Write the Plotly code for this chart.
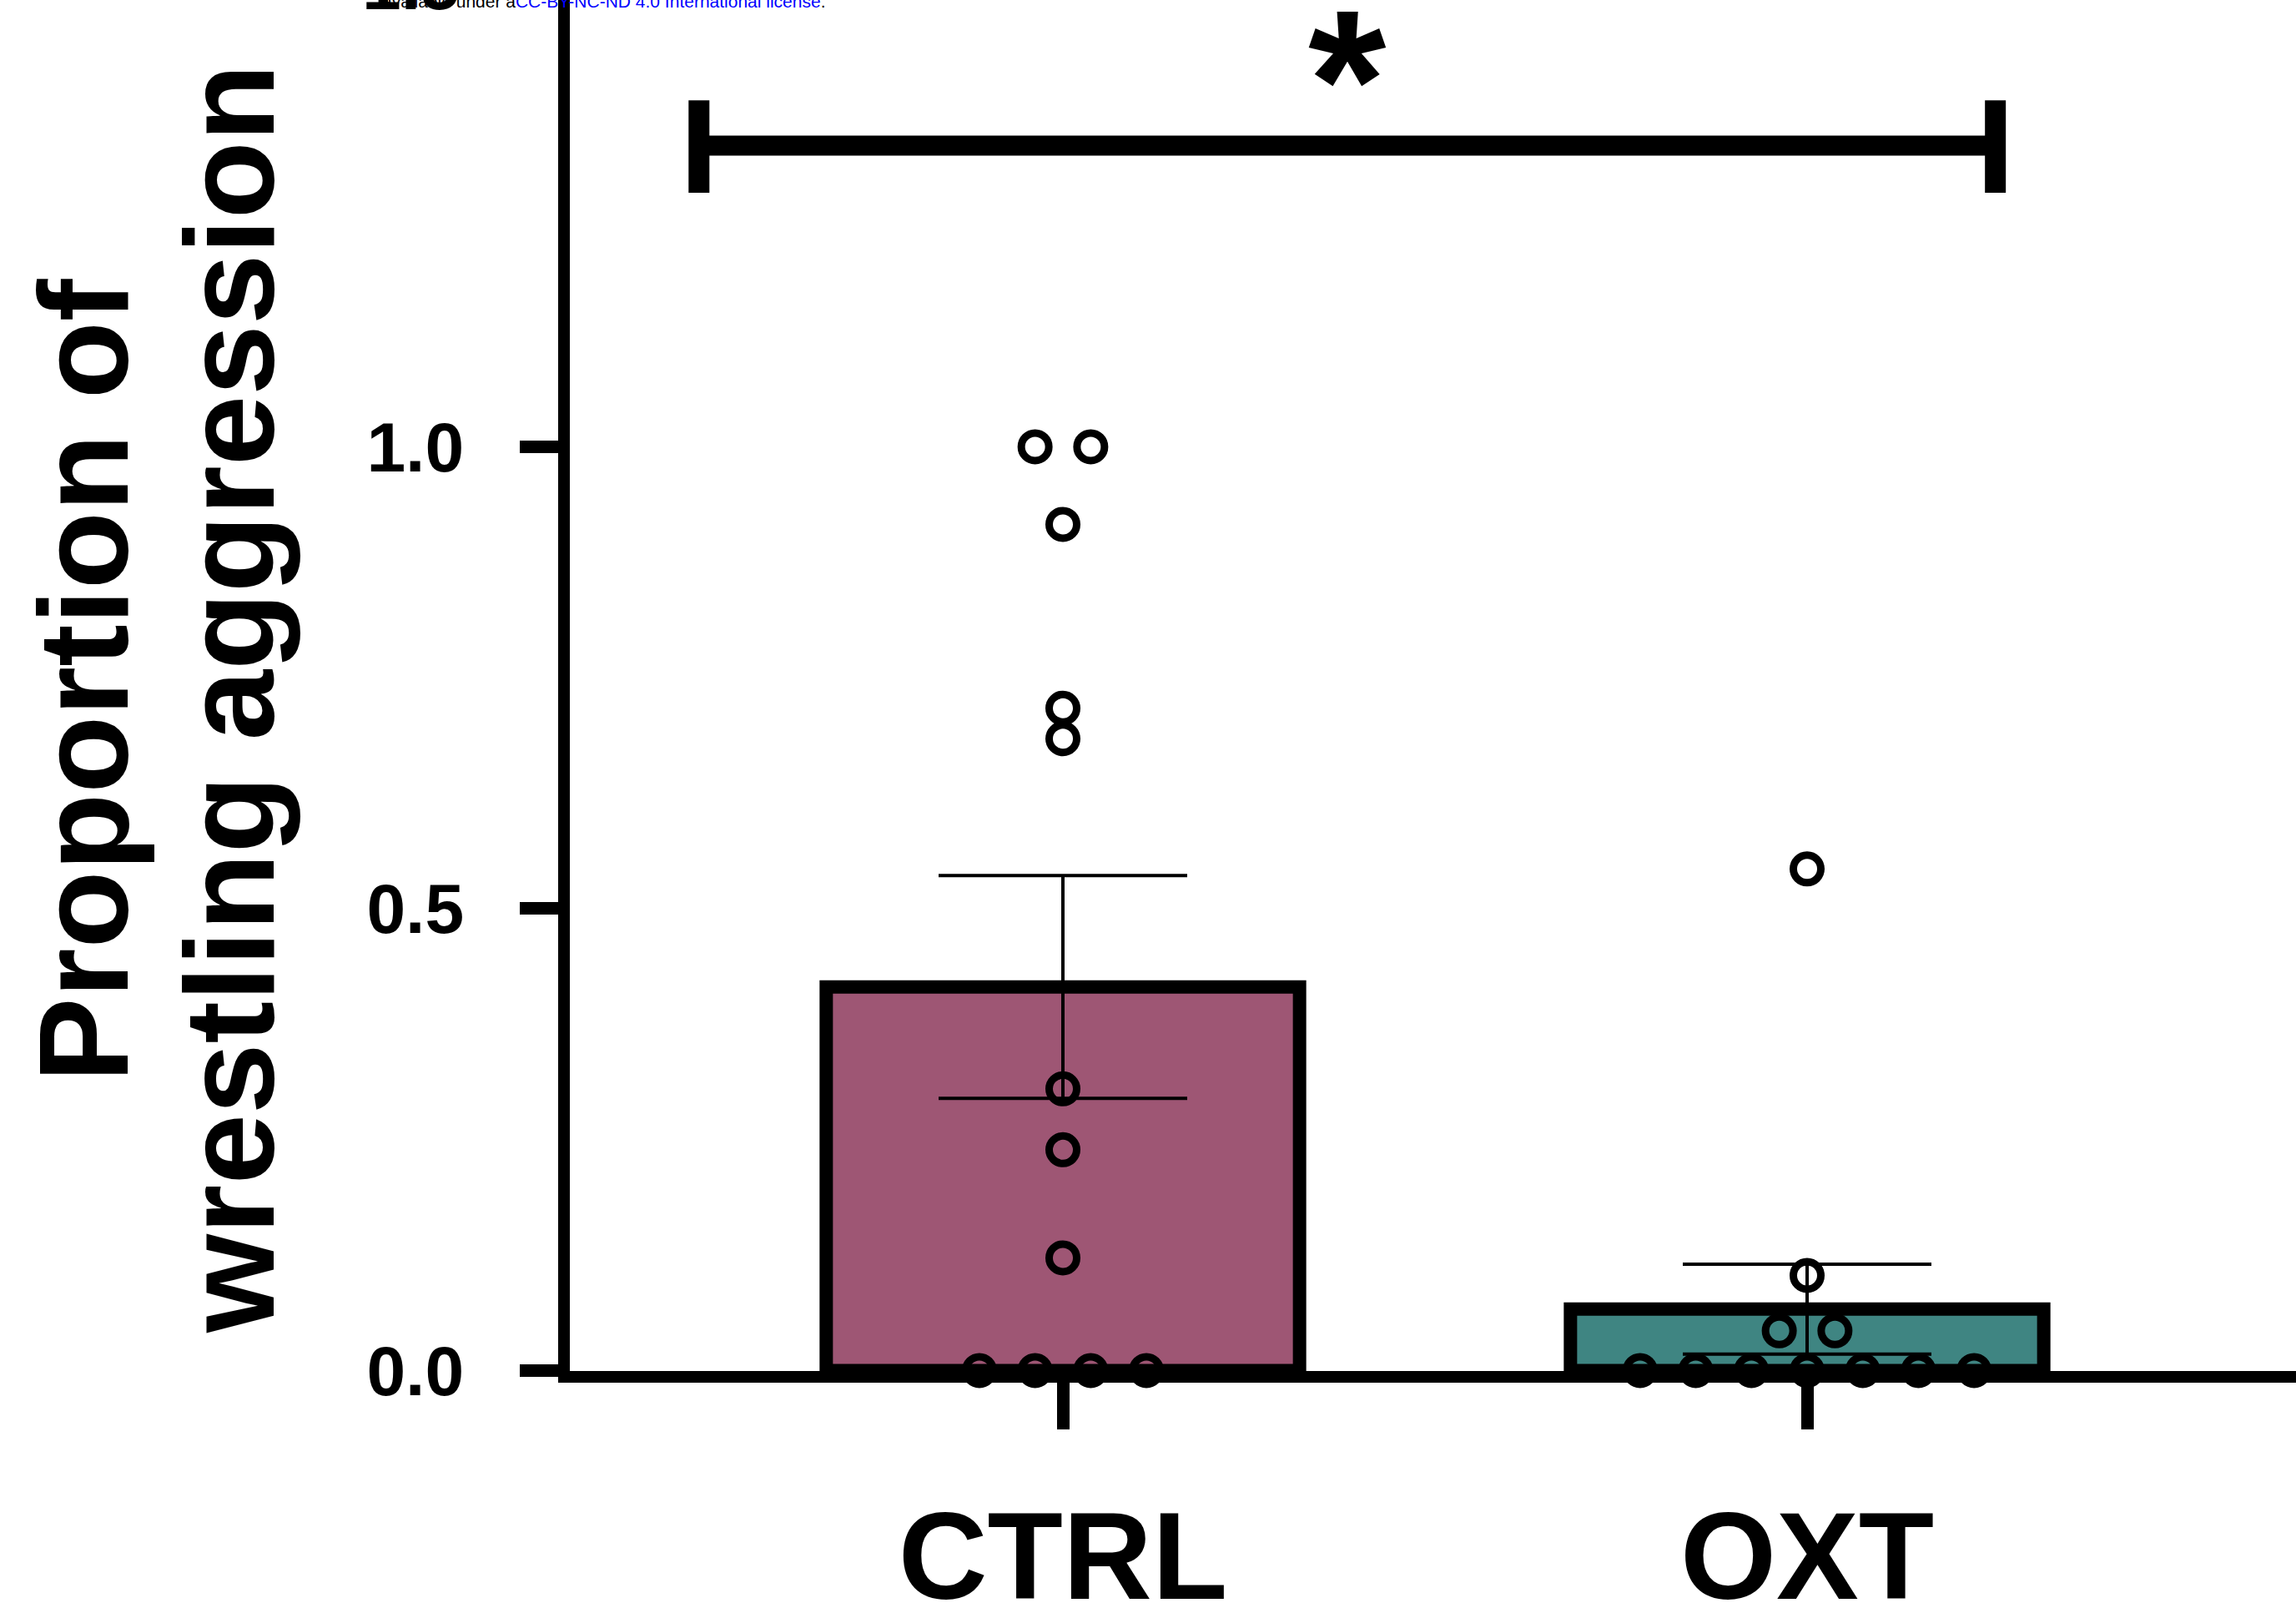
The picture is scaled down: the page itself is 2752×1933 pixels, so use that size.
import numpy as np
import plotly.graph_objects as go
from collections import Counter, defaultdict

# ---------------- data ----------------
groups = ["CTRL", "OXT"]
ctrl_values = [1.0, 1.0, 0.916, 0.717, 0.684, 0.305, 0.239, 0.122, 0.0, 0.0, 0.0, 0.0]
oxt_values = [0.543, 0.103, 0.043, 0.043, 0.0, 0.0, 0.0, 0.0, 0.0, 0.0, 0.0]
bar_colors = ["#9E5674", "#3F8582"]
y_tickvals = [0.0, 0.5, 1.0]
y_ticktext = ["0.0", "0.5", "1.0"]
cut_tick_value = 1.5
cut_tick_text = "1.5"
y_title_lines = ["Proportion of", "wrestling aggression"]
sig_label = "*"
bracket_x = [-0.489, 1.253]
bracket_y = 1.326
bracket_cap = [1.275, 1.375]
header_black = "available under a"
header_blue = "CC-BY-NC-ND 4.0 International license"

all_values = [ctrl_values, oxt_values]
means = [float(np.mean(v)) for v in all_values]
sems = [float(np.std(v, ddof=1) / np.sqrt(len(v))) for v in all_values]

# ---------------- geometry ----------------
W, H = 2752, 1933
L = 683            # plot-area left edge (px)
B = 290            # bottom margin
PW = W - L
PH = H - B
X_PER = 892.0      # px per category unit
CTRL_PX = 1274.0
Y_PER = 1107.0     # px per y unit
Y_EPS = 0.0005     # keep y=0 points just inside the range

x_range = [(L - CTRL_PX) / X_PER, (W - CTRL_PX) / X_PER]
y_range = [-Y_EPS, PH / Y_PER - Y_EPS]

def paper_x(px):
    return (px - L) / PW

def paper_y(py):
    return (PH - py) / PH

def data_y_px(v):
    return PH - (v + Y_EPS) * Y_PER

FONT = "Liberation Sans, Arial, sans-serif"
STEP = 0.0748

def spread(values, step):
    keys = [round(v, 3) for v in values]
    counts = Counter(keys)
    seen = defaultdict(int)
    offs = []
    for k in keys:
        n = counts[k]
        i = seen[k]
        seen[k] += 1
        offs.append((i - (n - 1) / 2.0) * step)
    return offs

fig = go.Figure()

fig.add_trace(go.Bar(
    x=list(range(len(groups))),
    y=means,
    width=0.636,
    marker=dict(color=bar_colors, line=dict(color="black", width=16)),
    error_y=dict(type="data", array=sems, visible=True, color="black",
                 thickness=4, width=149),
    showlegend=False,
    cliponaxis=False,
))

for gi, vals in enumerate(all_values):
    offs = spread(vals, STEP)
    fig.add_trace(go.Scatter(
        x=[gi + o for o in offs],
        y=vals,
        mode="markers",
        marker=dict(symbol="circle-open", size=33, color="black",
                    line=dict(width=9, color="black")),
        cliponaxis=False,
        showlegend=False,
    ))

shapes = [
    dict(type="line", xref="x", yref="y", x0=bracket_x[0], x1=bracket_x[1],
         y0=bracket_y, y1=bracket_y, line=dict(color="black", width=24)),
    dict(type="line", xref="x", yref="y", x0=bracket_x[0], x1=bracket_x[0],
         y0=bracket_cap[0], y1=bracket_cap[1], line=dict(color="black", width=25)),
    dict(type="line", xref="x", yref="y", x0=bracket_x[1], x1=bracket_x[1],
         y0=bracket_cap[0], y1=bracket_cap[1], line=dict(color="black", width=25)),
]

annotations = [
    dict(text=sig_label, xref="paper", yref="paper",
         x=paper_x(CTRL_PX + X_PER * (bracket_x[0] + bracket_x[1]) / 2),
         y=paper_y(63), xanchor="center", yanchor="middle", yshift=-33, showarrow=False,
         font=dict(family=FONT, size=240, color="black", weight="bold")),
    dict(text=y_title_lines[0], xref="paper", yref="paper", x=paper_x(100),
         y=paper_y(816), xanchor="center", yanchor="middle", textangle=-90,
         showarrow=False, font=dict(family=FONT, size=152, color="black", weight="bold")),
    dict(text=y_title_lines[1], xref="paper", yref="paper", x=paper_x(275),
         y=paper_y(838), xanchor="center", yanchor="middle", textangle=-90,
         showarrow=False, font=dict(family=FONT, size=152, color="black", weight="bold")),
    dict(text=cut_tick_text, xref="paper", yref="paper", x=paper_x(553),
         y=paper_y(data_y_px(cut_tick_value)), xanchor="right", yanchor="middle",
         showarrow=False, font=dict(family=FONT, size=84, color="black", weight="bold")),
    dict(text=header_black + "<span style='color:#0000ff'>" + header_blue + "</span>.",
         xref="paper", yref="paper", x=paper_x(456), y=paper_y(2), xanchor="left",
         yanchor="middle", showarrow=False,
         font=dict(family=FONT, size=21, color="black")),
]

fig.update_layout(
    width=W, height=H,
    margin=dict(l=L, r=0, t=0, b=B, pad=0, autoexpand=False),
    paper_bgcolor="white", plot_bgcolor="white",
    showlegend=False,
    shapes=shapes,
    annotations=annotations,
    xaxis=dict(range=x_range, tickvals=list(range(len(groups))), ticktext=groups,
               showgrid=False, zeroline=False, showline=True, linecolor="black",
               linewidth=14, ticks="outside", ticklen=56, tickwidth=15,
               tickcolor="black", ticklabelstandoff=25, automargin=False,
               tickfont=dict(family=FONT, size=148, color="black", weight="bold")),
    yaxis=dict(range=y_range, tickvals=y_tickvals, ticktext=y_ticktext,
               showgrid=False, zeroline=False, showline=True, linecolor="black",
               linewidth=14, ticks="outside", ticklen=46, tickwidth=15,
               tickcolor="black", ticklabelstandoff=50, automargin=False,
               tickfont=dict(family=FONT, size=84, color="black", weight="bold")),
)

fig.write_html("out.html")
